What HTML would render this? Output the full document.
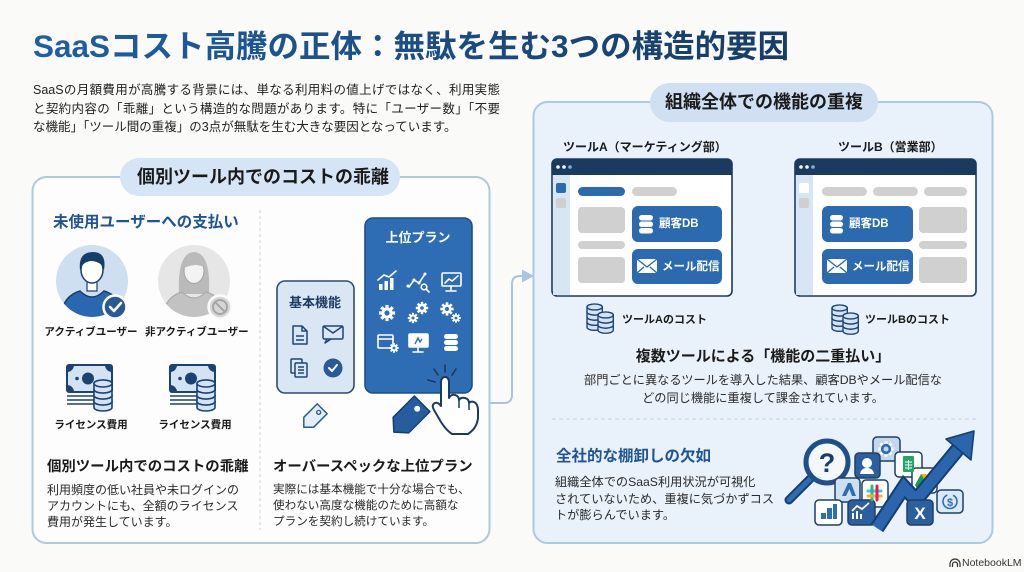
<!DOCTYPE html>
<html lang="ja">
<head>
<meta charset="utf-8">
<style>
html,body{margin:0;padding:0;}
body{width:1024px;height:572px;overflow:hidden;background:#fafaf9;position:relative;font-family:"Liberation Sans","Noto Sans CJK JP",sans-serif;color:#222;}
.t{position:absolute;white-space:nowrap;}
.b{font-weight:bold;}
svg{position:absolute;left:0;top:0;}
.jl{display:block;width:467px;text-align:justify;text-align-last:justify;}
</style>
</head>
<body>
<svg width="1024" height="572" viewBox="0 0 1024 572">
<defs>
  <g id="gear">
    <g fill="#fff">
      <circle r="6.5"/>
      <rect x="-1.9" y="-9.5" width="3.8" height="4.5"/>
      <rect x="-1.9" y="-9.5" width="3.8" height="4.5" transform="rotate(45)"/>
      <rect x="-1.9" y="-9.5" width="3.8" height="4.5" transform="rotate(90)"/>
      <rect x="-1.9" y="-9.5" width="3.8" height="4.5" transform="rotate(135)"/>
      <rect x="-1.9" y="-9.5" width="3.8" height="4.5" transform="rotate(180)"/>
      <rect x="-1.9" y="-9.5" width="3.8" height="4.5" transform="rotate(225)"/>
      <rect x="-1.9" y="-9.5" width="3.8" height="4.5" transform="rotate(270)"/>
      <rect x="-1.9" y="-9.5" width="3.8" height="4.5" transform="rotate(315)"/>
    </g>
  </g>
  <g id="stk" fill="#d3e3f3" stroke="#1c4272" stroke-width="1.6">
    <path d="M0,21.5 L0,27.5 A9,3.5 0 0 0 18,27.5 L18,21.5 A9,3.5 0 0 0 0,21.5 Z"/><ellipse cx="9" cy="21.5" rx="9" ry="3.5"/>
    <path d="M0,15.5 L0,21.5 A9,3.5 0 0 0 18,21.5 L18,15.5 A9,3.5 0 0 0 0,15.5 Z"/><ellipse cx="9" cy="15.5" rx="9" ry="3.5"/>
    <path d="M0,9.5 L0,15.5 A9,3.5 0 0 0 18,15.5 L18,9.5 A9,3.5 0 0 0 0,9.5 Z"/><ellipse cx="9" cy="9.5" rx="9" ry="3.5"/>
    <path d="M0,3.5 L0,9.5 A9,3.5 0 0 0 18,9.5 L18,3.5 A9,3.5 0 0 0 0,3.5 Z"/><ellipse cx="9" cy="3.5" rx="9" ry="3.5"/>
  </g>
  <g id="stk3" fill="#d3e3f3" stroke="#1c4272" stroke-width="1.6">
    <path d="M0,15.5 L0,21.5 A9,3.5 0 0 0 18,21.5 L18,15.5 A9,3.5 0 0 0 0,15.5 Z"/><ellipse cx="9" cy="15.5" rx="9" ry="3.5"/>
    <path d="M0,9.5 L0,15.5 A9,3.5 0 0 0 18,15.5 L18,9.5 A9,3.5 0 0 0 0,9.5 Z"/><ellipse cx="9" cy="9.5" rx="9" ry="3.5"/>
    <path d="M0,3.5 L0,9.5 A9,3.5 0 0 0 18,9.5 L18,3.5 A9,3.5 0 0 0 0,3.5 Z"/><ellipse cx="9" cy="3.5" rx="9" ry="3.5"/>
  </g>
  <g id="bill">
    <rect x="0" y="0" width="45" height="27" rx="2" fill="#d3e3f3" stroke="#1c4272" stroke-width="2"/>
    <path d="M0,0 h7 a7,7 0 0 1 -7,7 z M45,0 h-7 a7,7 0 0 0 7,7 z M0,27 h7 a7,7 0 0 0 -7,-7 z M45,27 h-7 a7,7 0 0 1 7,-7 z" fill="#1c4272"/>
    <circle cx="21" cy="13.5" r="6" fill="#1c4272"/>
    <circle cx="10" cy="13.5" r="1.8" fill="#1c4272"/>
    <path d="M0,31 H33 M0,35 H33 M0,39 H33" stroke="#1c4272" stroke-width="1.6"/>
  </g>
  <clipPath id="c1"><circle cx="92" cy="281" r="36"/></clipPath>
  <clipPath id="c2"><circle cx="194" cy="281" r="36"/></clipPath>
</defs>

<!-- Panels -->
<rect x="32.5" y="177" width="457" height="366" rx="14" fill="#fdfdfd" stroke="#aec8e2" stroke-width="2"/>
<rect x="533.5" y="102" width="459" height="441" rx="14" fill="#e9f1fa" stroke="#aec8e2" stroke-width="2"/>
<rect x="120" y="158" width="280" height="38" rx="19" fill="#d5e5f5"/>
<rect x="650" y="83" width="228" height="39" rx="19.5" fill="#cfe0f2"/>

<!-- connector -->
<path d="M490,403 H504 Q512,403 512,395 V284 Q512,276 520,276 H524" fill="none" stroke="#a9c4e0" stroke-width="2"/>
<polygon points="534,276 522,269.5 522,282.5" fill="#a9c4e0"/>

<!-- left divider -->
<line x1="260" y1="210" x2="260" y2="530" stroke="#cfcfcf" stroke-width="1" stroke-dasharray="3 3"/>

<!-- active user -->
<circle cx="92" cy="281" r="36" fill="#cddff0"/>
<g clip-path="url(#c1)">
  <path d="M60,320 Q62,296 80,291 Q86,297 92,297 Q98,297 104,291 Q122,296 124,320 Z" fill="#2a67b0" stroke="#163e6b" stroke-width="1.5"/>
  <rect x="87" y="280" width="10" height="11" fill="#fff" stroke="#163e6b" stroke-width="1.2"/>
  <ellipse cx="92" cy="270" rx="11" ry="13" fill="#fff" stroke="#163e6b" stroke-width="1.5"/>
  <path d="M80,270 Q78,252 93,252 Q107,252 104,270 Q102,262 92,261 Q83,261 80,270 Z" fill="#163e6b"/>
</g>
<circle cx="115" cy="307" r="11.5" fill="#2b5a92" stroke="#fff" stroke-width="2.5"/>
<polyline points="110,307 114,311 121,303" fill="none" stroke="#fff" stroke-width="2.5" stroke-linecap="round" stroke-linejoin="round"/>

<!-- inactive user -->
<circle cx="194" cy="281" r="36" fill="#e6e6e6"/>
<g clip-path="url(#c2)">
  <path d="M179,294 Q177,253 194,252 Q211,253 209,294 Z" fill="#bababa"/>
  <path d="M162,320 Q164,297 182,292 Q188,298 194,298 Q200,298 206,292 Q224,297 226,320 Z" fill="#c2c2c2" stroke="#aaa" stroke-width="1.2"/>
  <ellipse cx="194" cy="271" rx="10" ry="12.5" fill="#f3f3f3" stroke="#aaa" stroke-width="1.2"/>
  <path d="M184,268 Q185,256 194,256 Q204,256 205,268 Q197,262 184,268 Z" fill="#bababa"/>
</g>
<circle cx="220" cy="307" r="11.5" fill="#d6d6d6" stroke="#fafafa" stroke-width="2.5"/>
<circle cx="220" cy="307" r="7" fill="none" stroke="#a6a6a6" stroke-width="2"/>
<line x1="215" y1="302" x2="225" y2="312" stroke="#a6a6a6" stroke-width="2"/>

<!-- money -->
<use href="#bill" transform="translate(67,365)"/>
<use href="#stk" transform="translate(94,380)"/>
<use href="#bill" transform="translate(170,365)"/>
<use href="#stk" transform="translate(197,380)"/>

<!-- basic card -->
<rect x="277" y="281" width="77" height="112" rx="8" fill="#d9e7f5" stroke="#2b4d77" stroke-width="1.6"/>
<g fill="none" stroke="#1f4573" stroke-width="1.5" stroke-linejoin="round">
  <path d="M293,326 h9 l5,5 v13 h-14 z M302,326 v5 h5"/>
  <path d="M296,336 h8 M296,340 h8"/>
  <rect x="323" y="326" width="20" height="13" rx="1.5"/>
  <path d="M323,326 l10,7 l10,-7 M327,339 l-2,4 l6,-4"/>
  <rect x="291" y="359" width="11" height="14" rx="1"/>
  <rect x="295" y="363" width="12" height="14" rx="1" fill="#d9e7f5"/>
  <path d="M298,367 h6 M298,370 h6 M298,373 h6"/>
</g>
<circle cx="333" cy="368" r="9.5" fill="#2b5a92"/>
<polyline points="329,368 332,371 337,365" fill="none" stroke="#fff" stroke-width="2" stroke-linecap="round" stroke-linejoin="round"/>

<!-- upper card -->
<rect x="365" y="218" width="107" height="175" rx="8" fill="#2e6db4" stroke="#1d4e8a" stroke-width="1.6"/>
<g fill="#fff" stroke="none">
  <rect x="379" y="284" width="3.5" height="6"/>
  <rect x="384.5" y="281" width="3.5" height="9"/>
  <rect x="390" y="278" width="3.5" height="12"/>
</g>
<g fill="none" stroke="#fff" stroke-width="1.6" stroke-linecap="round" stroke-linejoin="round">
  <polyline points="378,280 384,275 389,277 396,271"/>
  <polyline points="409,287 414,280 419,283 425,274"/>
  <circle cx="424" cy="287" r="2.8"/>
  <line x1="426" y1="289" x2="429" y2="292"/>
  <rect x="442" y="273" width="19" height="13" rx="1"/>
  <path d="M451,286 v4 M446,291 h10"/>
  <polyline points="445,283 449,279 452,281 458,276"/>
  <rect x="378" y="335" width="15" height="13" rx="1"/>
  <path d="M378,339 h15"/>
  <rect x="409" y="334" width="19" height="13" rx="1" fill="#fff"/>
  <path d="M418,347 v4 M413,352 h10"/>
</g>
<g fill="#fff">
  <circle cx="408" cy="286" r="1.5"/><circle cx="414" cy="280" r="1.5"/><circle cx="419" cy="283" r="1.5"/><circle cx="425" cy="274" r="1.5"/>
</g>
<path d="M415,344 l3,-6 l2,4 l2,-3" fill="none" stroke="#2e6db4" stroke-width="1.4"/>
<use href="#gear" transform="translate(387,313) scale(0.85)"/>
<circle cx="387" cy="313" r="2.6" fill="#2e6db4"/>
<use href="#gear" transform="translate(413,318) scale(0.55)"/>
<circle cx="413" cy="318" r="1.5" fill="#2e6db4"/>
<use href="#gear" transform="translate(422,308) scale(0.65)"/>
<circle cx="422" cy="308" r="1.8" fill="#2e6db4"/>
<use href="#gear" transform="translate(447,309) scale(0.7)"/>
<circle cx="447" cy="309" r="2" fill="#2e6db4"/>
<use href="#gear" transform="translate(456,318) scale(0.5)"/>
<circle cx="456" cy="318" r="1.4" fill="#2e6db4"/>
<use href="#gear" transform="translate(394,348) scale(0.5)"/>
<circle cx="394" cy="348" r="1.4" fill="#2e6db4"/>
<g fill="#fff">
  <rect x="444" y="334" width="14" height="5" rx="2.5"/>
  <rect x="444" y="340" width="14" height="5" rx="2.5"/>
  <rect x="444" y="346" width="14" height="5" rx="2.5"/>
</g>
<g stroke="#1a3a60" stroke-width="1.6" stroke-linecap="round">
  <line x1="445" y1="372" x2="445" y2="365"/>
  <line x1="438" y1="375" x2="434" y2="369"/>
  <line x1="452" y1="375" x2="456" y2="369"/>
  <line x1="435" y1="382" x2="428" y2="380"/>
</g>

<!-- tags -->
<g transform="translate(313,418) rotate(-45)">
  <path d="M-13,0 L-6,-7 L13,-7 L13,7 L-6,7 Z" fill="#e3eef9" stroke="#2b5a92" stroke-width="1.5" stroke-linejoin="round"/>
  <circle cx="8" cy="0" r="2" fill="none" stroke="#2b5a92" stroke-width="1.3"/>
</g>
<g transform="translate(408,418) rotate(-45)">
  <path d="M-20,0 L-10,-11 L20,-11 L20,11 L-10,11 Z" fill="#255d9e" stroke="#173f6e" stroke-width="1.5" stroke-linejoin="round"/>
  <circle cx="13" cy="0" r="3" fill="#fff"/>
</g>

<!-- hand -->
<path d="M441,383 Q441,377 445,377 Q449,377 449,383 L449,398 Q451,394 455,395 Q459,396 459,400 Q461,397 465,398 Q469,399 469,403 Q471,401 474,402 Q478,404 478,410 L478,418 Q477,428 468,434 L452,434 Q446,430 441,422 L434,410 Q431,405 435,403 Q438,402 441,406 Z" fill="#fff" stroke="#1a3a60" stroke-width="2" stroke-linejoin="round"/>
<path d="M459,400 v8 M469,403 v7" stroke="#1a3a60" stroke-width="1.5"/>

<!-- Window A -->
<rect x="552" y="159" width="180" height="137" rx="5" fill="#fff" stroke="#1b3a60" stroke-width="1.6"/>
<rect x="552" y="159" width="180" height="16" rx="5" fill="#1b3a60"/>
<rect x="552" y="167" width="180" height="8" fill="#1b3a60"/>
<circle cx="558" cy="167" r="1.8" fill="#fff"/><circle cx="564" cy="167" r="1.8" fill="#fff"/><circle cx="570" cy="167" r="1.8" fill="#7fb0e0"/>
<rect x="553" y="175" width="17" height="120" fill="#d8e6f4"/>
<rect x="556" y="183" width="10" height="10" rx="2" fill="#2c6ab0"/>
<rect x="556" y="198" width="10" height="10" rx="2" fill="#cfcfcf"/>
<rect x="578" y="187" width="47" height="9" rx="4.5" fill="#2c6ab0"/>
<rect x="632" y="187" width="45" height="9" rx="4.5" fill="#d0d0d0"/>
<rect x="578" y="207" width="47" height="26" rx="4" fill="#d0d0d0"/>
<rect x="578" y="241" width="47" height="8" rx="4" fill="#d0d0d0"/>
<rect x="578" y="257" width="47" height="26" rx="4" fill="#d0d0d0"/>
<rect x="632" y="206" width="90" height="36" rx="6" fill="#2c6ab0"/>
<rect x="632" y="249" width="90" height="35" rx="6" fill="#2c6ab0"/>
<g fill="#fff"><rect x="639" y="215" width="14" height="5.5" rx="2.7"/><rect x="639" y="221.5" width="14" height="5.5" rx="2.7"/><rect x="639" y="228" width="14" height="5.5" rx="2.7"/></g>
<rect x="637" y="259" width="20" height="14" fill="#fff"/>
<path d="M637,259 l10,8 l10,-8 M637,273 l7,-6 M657,273 l-7,-6" fill="none" stroke="#2c6ab0" stroke-width="1.4"/>
<use href="#stk" transform="translate(587,304) scale(0.85)"/>
<use href="#stk3" transform="translate(598,312) scale(0.85)"/>

<!-- Window B -->
<rect x="795" y="159" width="181" height="137" rx="5" fill="#fff" stroke="#1b3a60" stroke-width="1.6"/>
<rect x="795" y="159" width="181" height="16" rx="5" fill="#1b3a60"/>
<rect x="795" y="167" width="181" height="8" fill="#1b3a60"/>
<circle cx="801" cy="167" r="1.8" fill="#fff"/><circle cx="807" cy="167" r="1.8" fill="#fff"/><circle cx="813" cy="167" r="1.8" fill="#7fb0e0"/>
<rect x="796" y="175" width="17" height="120" fill="#d8e6f4"/>
<rect x="799" y="183" width="10" height="10" rx="2" fill="#fff"/>
<rect x="799" y="198" width="10" height="10" rx="2" fill="#cfcfcf"/>
<rect x="822" y="187" width="45" height="9" rx="4.5" fill="#d0d0d0"/>
<rect x="873" y="187" width="45" height="9" rx="4.5" fill="#d0d0d0"/>
<rect x="924" y="187" width="43" height="9" rx="4.5" fill="#d0d0d0"/>
<rect x="822" y="206" width="91" height="36" rx="6" fill="#2c6ab0"/>
<rect x="822" y="249" width="91" height="35" rx="6" fill="#2c6ab0"/>
<rect x="919" y="207" width="48" height="26" rx="4" fill="#d0d0d0"/>
<rect x="919" y="241" width="48" height="8" rx="4" fill="#d0d0d0"/>
<rect x="919" y="257" width="48" height="26" rx="4" fill="#d0d0d0"/>
<g fill="#fff"><rect x="830" y="215" width="13" height="5.5" rx="2.7"/><rect x="830" y="221.5" width="13" height="5.5" rx="2.7"/><rect x="830" y="228" width="13" height="5.5" rx="2.7"/></g>
<rect x="827" y="259" width="20" height="14" fill="#fff"/>
<path d="M827,259 l10,8 l10,-8 M827,273 l7,-6 M847,273 l-7,-6" fill="none" stroke="#2c6ab0" stroke-width="1.4"/>
<use href="#stk" transform="translate(832,305) scale(0.85)"/>
<use href="#stk3" transform="translate(843,313) scale(0.85)"/>

<!-- dashed divider right -->
<line x1="552" y1="419" x2="976" y2="419" stroke="#c6d3e0" stroke-width="1" stroke-dasharray="4 3"/>

<!-- illustration -->
<line x1="810" y1="479" x2="789" y2="500" stroke="#163e6b" stroke-width="9" stroke-linecap="round"/>
<line x1="810" y1="479" x2="789" y2="500" stroke="#2f6db3" stroke-width="5" stroke-linecap="round"/>
<circle cx="827" cy="462" r="21" fill="#f4f8fc" stroke="#1f4f8a" stroke-width="5"/>
<text x="827" y="472" text-anchor="middle" font-family="Liberation Sans, sans-serif" font-weight="bold" font-size="27" fill="#173f6e">?</text>
<g stroke="#1f3f68" stroke-width="1.5">
  <rect x="873" y="437" width="27" height="24" rx="4" fill="#c3d8ef"/>
  <rect x="855" y="453" width="25" height="25" rx="4" fill="#2c5f9e"/>
  <rect x="895" y="452" width="27" height="25" rx="4" fill="#fff"/>
  <rect x="835" y="478" width="25" height="24" rx="4" fill="#cfe0f2"/>
  <rect x="862" y="480" width="26" height="27" rx="4" fill="#fff"/>
  <rect x="912" y="468" width="25" height="25" rx="4" fill="#fff"/>
  <rect x="815" y="500" width="27" height="25" rx="4" fill="#fff"/>
  <rect x="848" y="500" width="27" height="25" rx="4" fill="#2c5f9e"/>
</g>
<use href="#gear" transform="translate(886,449) scale(0.8)"/>
<g transform="translate(886,449) scale(0.8)"><circle r="6.5" fill="#2f6db3"/></g>
<circle cx="886" cy="449" r="2.5" fill="#c3d8ef"/>
<circle cx="867" cy="463" r="5" fill="#fff"/>
<path d="M860,474 Q861,468 867,468 Q873,468 874,474 Z" fill="#fff"/>
<rect x="903" y="456" width="11" height="16" rx="1" fill="#23a566"/>
<path d="M905,462 h7 M905,465 h7 M905,468 h7 M908.5,460 v10" stroke="#fff" stroke-width="1"/>
<path d="M842,496 L848,483 L851,483 L856,496 L852,496 L849.5,489 L846,496 Z" fill="#2f6db3"/>
<g stroke-width="3" stroke-linecap="round">
  <line x1="868" y1="491" x2="881" y2="491" stroke="#36c5f0"/>
  <line x1="872" y1="486" x2="872" y2="500" stroke="#2eb67d"/>
  <line x1="868" y1="496" x2="881" y2="496" stroke="#ecb22e"/>
  <line x1="877" y1="486" x2="877" y2="500" stroke="#e01e5a"/>
</g>
<polygon points="921,474 926,474 933,486 930,490" fill="#f4b400"/>
<polygon points="921,474 915,485 918,490 924,479" fill="#0f9d58"/>
<polygon points="918,490 930,490 933,486 921,486" fill="#4285f4"/>
<g fill="#2f6db3"><rect x="821" y="513" width="5" height="6"/><rect x="827" y="508" width="5" height="11"/><rect x="833" y="504" width="4" height="15"/></g>
<path d="M853,519 v-6 M857,519 v-8 M861,519 v-5" stroke="#fff" stroke-width="2"/>
<polyline points="852,511 857,506 862,509 869,503" fill="none" stroke="#fff" stroke-width="1.8"/>
<!-- big arrow -->
<polyline points="877,528 904,487 916,500 958,449" fill="none" stroke="#163e6b" stroke-width="15" stroke-linejoin="miter"/>
<polyline points="877,528 904,487 916,500 958,449" fill="none" stroke="#2b65ad" stroke-width="11" stroke-linejoin="miter"/>
<polygon points="974,431 971,460 946,439" fill="#2b65ad" stroke="#163e6b" stroke-width="1.5" stroke-linejoin="round"/>
<rect x="907" y="500" width="26" height="25" rx="4" fill="#2c5f9e" stroke="#1f3f68" stroke-width="1.5"/>
<text x="920" y="519" text-anchor="middle" font-family="Liberation Sans, sans-serif" font-weight="bold" font-size="17" fill="#fff">X</text>
<rect x="937" y="490" width="26" height="23" rx="4" fill="#dbe8f5" stroke="#1f3f68" stroke-width="1.5"/>
<circle cx="950" cy="501.5" r="7" fill="none" stroke="#2f6db3" stroke-width="1.6" stroke-dasharray="30 6"/>
<text x="950" y="506" text-anchor="middle" font-family="Liberation Sans, sans-serif" font-weight="bold" font-size="11" fill="#2f6db3">$</text>

<!-- NotebookLM logo -->
<path d="M950,567 v-3 a5,5 0 0 1 10,0 v3 M952.5,567 v-2.5 a2.5,2.5 0 0 1 5,0 v2.5" fill="none" stroke="#333" stroke-width="1.2"/>
</svg>

<!-- Title -->
<div class="t b" style="left:33px;top:30px;font-size:31.5px;line-height:32px;background:linear-gradient(90deg,#1f5fa3,#163d66);-webkit-background-clip:text;background-clip:text;color:transparent;">SaaSコスト高騰の正体：無駄を生む3つの構造的要因</div>

<!-- Intro -->
<div class="t" style="left:33px;top:81px;font-size:12.5px;line-height:18.5px;color:#222;">
<span class="jl">SaaSの月額費用が高騰する背景には、単なる利用料の値上げではなく、利用実態</span>
<span class="jl">と契約内容の「乖離」という構造的な問題があります。特に「ユーザー数」「不要</span>
<span style="display:block;">な機能」「ツール間の重複」の3点が無駄を生む大きな要因となっています。</span>
</div>

<!-- Pills -->
<div class="t b" style="left:137px;top:168px;font-size:18px;line-height:18px;color:#1a1a1a;">個別ツール内でのコストの乖離</div>
<div class="t b" style="left:665px;top:93px;font-size:18px;line-height:18px;color:#1a1a1a;">組織全体での機能の重複</div>

<!-- Left section -->
<div class="t b" style="left:53px;top:215px;font-size:15.5px;line-height:16px;color:#1e5494;">未使用ユーザーへの支払い</div>
<div class="t b" style="left:41px;top:326px;width:100px;text-align:center;font-size:10.5px;line-height:12px;color:#1a1a1a;">アクティブユーザー</div>
<div class="t b" style="left:145px;top:326px;width:100px;text-align:center;font-size:10.5px;line-height:12px;color:#1a1a1a;">非アクティブユーザー</div>
<div class="t b" style="left:41px;top:419px;width:100px;text-align:center;font-size:10.5px;line-height:12px;color:#1a1a1a;">ライセンス費用</div>
<div class="t b" style="left:145px;top:419px;width:100px;text-align:center;font-size:10.5px;line-height:12px;color:#1a1a1a;">ライセンス費用</div>

<div class="t b" style="left:265px;top:296px;width:100px;text-align:center;font-size:13px;line-height:14px;color:#1b3a5e;">基本機能</div>
<div class="t b" style="left:368px;top:231px;width:100px;text-align:center;font-size:13px;line-height:14px;color:#fff;">上位プラン</div>

<div class="t b" style="left:47px;top:460px;font-size:14.4px;line-height:15px;color:#1a1a1a;">個別ツール内でのコストの乖離</div>
<div class="t" style="left:47px;top:482px;font-size:12px;line-height:16px;color:#2a2a2a;">利用頻度の低い社員や未ログインの<br>アカウントにも、全額のライセンス<br>費用が発生しています。</div>
<div class="t b" style="left:273px;top:460px;font-size:14.4px;line-height:15px;color:#1a1a1a;">オーバースペックな上位プラン</div>
<div class="t" style="left:273px;top:482px;font-size:11.6px;line-height:16px;color:#2a2a2a;">実際には基本機能で十分な場合でも、<br>使わない高度な機能のために高額な<br>プランを契約し続けています。</div>

<!-- Right section -->
<div class="t b" style="left:563px;top:141px;font-size:12px;line-height:13px;color:#1a1a1a;">ツールA（マーケティング部）</div>
<div class="t b" style="left:838px;top:141px;font-size:12px;line-height:13px;color:#1a1a1a;">ツールB（営業部）</div>
<div class="t b" style="left:659px;top:218px;font-size:11.5px;line-height:12px;color:#fff;">顧客DB</div>
<div class="t b" style="left:662px;top:261px;font-size:11.5px;line-height:12px;color:#fff;">メール配信</div>
<div class="t b" style="left:849px;top:218px;font-size:11.5px;line-height:12px;color:#fff;">顧客DB</div>
<div class="t b" style="left:852px;top:261px;font-size:11.5px;line-height:12px;color:#fff;">メール配信</div>
<div class="t b" style="left:622px;top:314px;font-size:11px;line-height:12px;color:#1a1a1a;">ツールAのコスト</div>
<div class="t b" style="left:865px;top:314px;font-size:11px;line-height:12px;color:#1a1a1a;">ツールBのコスト</div>

<div class="t b" style="left:563px;top:349px;width:400px;text-align:center;font-size:15px;line-height:16px;color:#1a1a1a;">複数ツールによる「機能の二重払い」</div>
<div class="t" style="left:563px;top:371px;width:400px;text-align:center;font-size:12.2px;line-height:18px;color:#2a2a2a;">部門ごとに異なるツールを導入した結果、顧客DBやメール配信な<br>どの同じ機能に重複して課金されています。</div>

<div class="t b" style="left:556px;top:449px;font-size:15.5px;line-height:16px;color:#1e5494;">全社的な棚卸しの欠如</div>
<div class="t" style="left:555px;top:474px;font-size:12.2px;line-height:16.5px;color:#2a2a2a;">組織全体でのSaaS利用状況が可視化<br>されていないため、重複に気づかずコス<br>トが膨らんでいます。</div>

<div class="t" style="left:962px;top:557px;font-size:10.5px;line-height:12px;color:#333;">NotebookLM</div>
</body>
</html>
